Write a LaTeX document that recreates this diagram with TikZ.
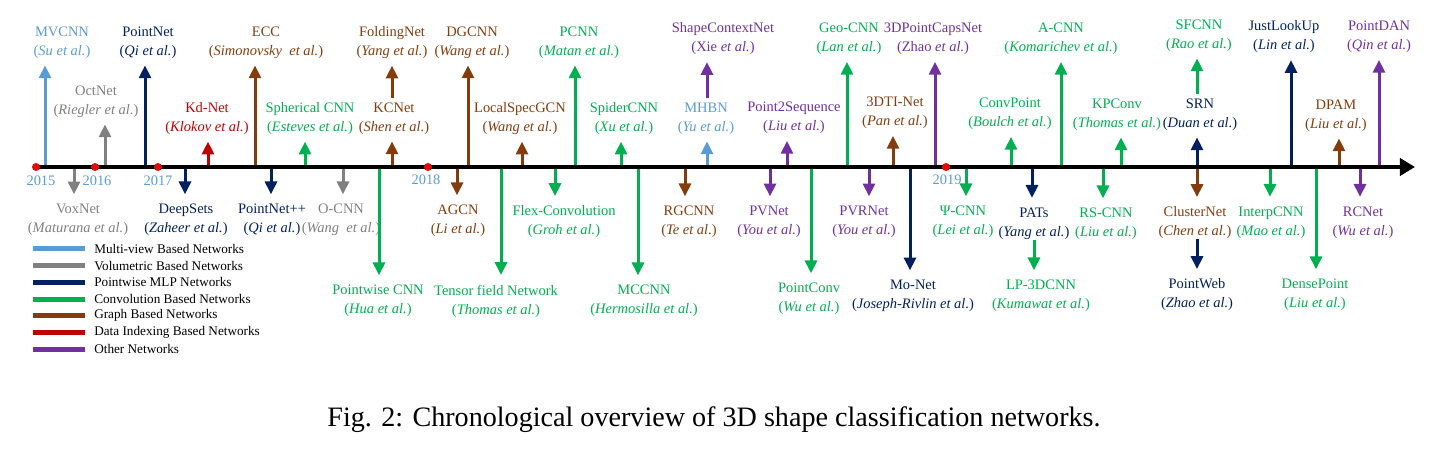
\documentclass[tikz,border=0pt]{standalone}
\usepackage{fontspec}
\setmainfont{Liberation Serif}
\usetikzlibrary{arrows.meta, positioning}

\newcommand{\etalref}[1]{(\textit{#1 et al.})}

\begin{document}
\begin{tikzpicture}[
    x=0.025cm, y=-0.025cm,   % one unit = one pixel of the page
    node distance=0.417cm,   % legend row spacing
    on grid,
    netlabel/.style={
        align=center,
        inner sep=0pt,
        font=\fontsize{10.3}{13.5}\selectfont
    },
    netarrow/.style={
        line width=0.075cm,
        -{Triangle[length=0.32cm, width=0.3cm]}
    },
    netup/.style={netarrow, shorten >=0.17cm},
    netdown/.style={netarrow, shorten >=0.24cm},
    timeline/.style={
        line width=0.1cm,
        -{Triangle[length=0.38cm, width=0.43cm]}
    },
    yeardot/.style={circle, fill=colorYear, inner sep=0pt, minimum size=0.2cm},
    yeartext/.style={font=\fontsize{10.3}{12}\selectfont, text=colorMultiView, inner sep=0pt},
    swatch/.style={inner sep=0pt, minimum width=1.3cm, minimum height=0.125cm},
    legtext/.style={font=\fontsize{9.4}{11}\selectfont, inner sep=0pt}
]

%--- Define colors for network families ---
\definecolor{colorMultiView}{RGB}{91,155,213}     % Light Blue
\definecolor{colorVolumetric}{RGB}{128,128,128}   % Gray
\definecolor{colorPointwise}{RGB}{0,32,96}        % Navy
\definecolor{colorConv}{RGB}{0,176,80}            % Green
\definecolor{colorGraph}{RGB}{132,60,12}          % Brown
\definecolor{colorIndex}{RGB}{192,0,0}            % Dark Red
\definecolor{colorOther}{RGB}{112,48,160}         % Purple
\definecolor{colorYear}{RGB}{230,10,10}           % Red dots

\useasboundingbox (0,0) rectangle (1456,457);

%------------------------------------
% TIMELINE POINTS
%------------------------------------
\coordinate (axis_start) at (36,167);
\coordinate (axis_end) at (1415,167);

% up (long)
\coordinate (mvcnn_t) at (45,167);
\coordinate (point_net_t) at (145,167);
\coordinate (ecc_t) at (255,167);
\coordinate (dgcnn_t) at (468,167);
\coordinate (pcnn_t) at (575,167);
\coordinate (geo_cnn_t) at (847,167);
\coordinate (point_caps_net_t) at (935,167);
\coordinate (a_cnn_t) at (1061,167);
\coordinate (just_look_up_t) at (1291,167);
\coordinate (point_dan_t) at (1379,167);

% up (short)
\coordinate (oct_net_t) at (105,167);
\coordinate (kd_net_t) at (208,167);
\coordinate (spherical_cnn_t) at (305,167);
\coordinate (kcnet_t) at (392,167);
\coordinate (local_spec_gcn_t) at (522,167);
\coordinate (spider_cnn_t) at (621,167);
\coordinate (mhbn_t) at (707,167);
\coordinate (point2sequence_t) at (787,167);
\coordinate (dti_net_t) at (893,167);
\coordinate (conv_point_t) at (1011,167);
\coordinate (kpconv_t) at (1121,167);
\coordinate (srn_t) at (1197,167);
\coordinate (dpam_t) at (1339,167);

% down (short)
\coordinate (vox_net_t) at (74,167);
\coordinate (deep_sets_t) at (185,167);
\coordinate (point_net_pp_t) at (271,167);
\coordinate (o_cnn_t) at (343,167);
\coordinate (agcn_t) at (457,167);
\coordinate (flex_conv_t) at (555,167);
\coordinate (rgcnn_t) at (685,167);
\coordinate (pv_net_t) at (770,167);
\coordinate (pvr_net_t) at (869,167);
\coordinate (psi_cnn_t) at (966,167);
\coordinate (pats_t) at (1032,167);
\coordinate (rs_cnn_t) at (1103,167);
\coordinate (cluster_net_t) at (1197,167);
\coordinate (interp_cnn_t) at (1270,167);
\coordinate (rc_net_t) at (1360,167);

% down (long)
\coordinate (pointwise_cnn_t) at (379,167);
\coordinate (tensor_field_net_t) at (501,167);
\coordinate (mccnn_t) at (638,167);
\coordinate (point_conv_t) at (811,167);
\coordinate (mo_net_t) at (910,167);
\coordinate (dense_point_t) at (1316,167);

%------------------------------------
% ABOVE THE AXIS
%------------------------------------

% far row
\node[netlabel, colorMultiView] (mvcnn) at (62,42.5) {MVCNN\\\etalref{Su}};
\node[netlabel, colorPointwise] (point_net) at (148,42.5) {PointNet\\\etalref{Qi}};
\node[netlabel, colorGraph] (ecc) at (266,42.5) {ECC\\(\textit{Simonovsky~ et al.})};
\node[netlabel, colorGraph] (folding_net) at (392,42.5) {FoldingNet\\\etalref{Yang}};
\node[netlabel, colorGraph] (dgcnn) at (472,42.5) {DGCNN\\\etalref{Wang}};
\node[netlabel, colorConv] (pcnn) at (579,42.5) {PCNN\\\etalref{Matan}};
\node[netlabel, colorOther] (shape_context_net) at (723,39) {ShapeContextNet\\(Xie \textit{et al.})};
\node[netlabel, colorConv] (geo_cnn) at (849,39) {Geo-CNN\\\etalref{Lan}};
\node[netlabel, colorOther] (point_caps_net) at (933,39) {3DPointCapsNet\\(Zhao \textit{et al.})};
\node[netlabel, colorConv] (a_cnn) at (1061,39) {A-CNN\\\etalref{Komarichev}};
\node[netlabel, colorConv] (sfcnn) at (1199,35.5) {SFCNN\\\etalref{Rao}};
\node[netlabel, colorPointwise] (just_look_up) at (1284,37) {JustLookUp\\\etalref{Lin}};
\node[netlabel, colorOther] (point_dan) at (1379,37) {PointDAN\\\etalref{Qin}};

% near row
\node[netlabel, colorVolumetric] (oct_net) at (96,101.5) {OctNet\\\etalref{Riegler}};
\node[netlabel, colorIndex] (kd_net) at (207,118.5) {Kd-Net\\\etalref{Klokov}};
\node[netlabel, colorConv] (spherical_cnn) at (310,118.5) {Spherical CNN\\\etalref{Esteves}};
\node[netlabel, colorGraph] (kcnet) at (394,118.5) {KCNet\\\etalref{Shen}};
\node[netlabel, colorGraph] (local_spec_gcn) at (520,118.5) {LocalSpecGCN\\\etalref{Wang}};
\node[netlabel, colorConv] (spider_cnn) at (624,118.5) {SpiderCNN\\\etalref{Xu}};
\node[netlabel, colorMultiView] (mhbn) at (706,118.5) {MHBN\\\etalref{Yu}};
\node[netlabel, colorOther] (point2sequence) at (794,118) {Point2Sequence\\\etalref{Liu}};
\node[netlabel, colorGraph] (dti_net) at (895,113) {3DTI-Net\\\etalref{Pan}};
\node[netlabel, colorConv] (conv_point) at (1010,114) {ConvPoint\\\etalref{Boulch}};
\node[netlabel, colorConv] (kpconv) at (1117,114.5) {KPConv\\\etalref{Thomas}};
\node[netlabel, colorPointwise] (srn) at (1200,114.5) {SRN\\\etalref{Duan}};
\node[netlabel, colorGraph] (dpam) at (1336,115.5) {DPAM\\\etalref{Liu}};

%------------------------------------
% BELOW THE AXIS
%------------------------------------

% near row
\node[netlabel, colorVolumetric] (vox_net) at (78,220) {VoxNet\\\etalref{Maturana}};
\node[netlabel, colorPointwise] (deep_sets) at (186,220) {DeepSets\\\etalref{Zaheer}};
\node[netlabel, colorPointwise] (point_net_pp) at (272,220) {PointNet++\\\etalref{Qi}};
\node[netlabel, colorVolumetric] (o_cnn) at (341,220) {O-CNN\\(\textit{Wang~ et al.})};
\node[netlabel, colorGraph] (agcn) at (458,221) {AGCN\\\etalref{Li}};
\node[netlabel, colorConv] (flex_conv) at (564,222) {Flex-Convolution\\\etalref{Groh}};
\node[netlabel, colorGraph] (rgcnn) at (689,222) {RGCNN\\\etalref{Te}};
\node[netlabel, colorOther] (pv_net) at (769,222) {PVNet\\\etalref{You}};
\node[netlabel, colorOther] (pvr_net) at (864,222) {PVRNet\\\etalref{You}};
\node[netlabel, colorConv] (psi_cnn) at (963,222) {Ψ-CNN\\\etalref{Lei}};
\node[netlabel, colorPointwise] (pats) at (1034,223.5) {PATs\\\etalref{Yang}};
\node[netlabel, colorConv] (rs_cnn) at (1106,224) {RS-CNN\\\etalref{Liu}};
\node[netlabel, colorGraph] (cluster_net) at (1195,223) {ClusterNet\\\etalref{Chen}};
\node[netlabel, colorConv] (interp_cnn) at (1271,222.5) {InterpCNN\\\etalref{Mao}};
\node[netlabel, colorOther] (rc_net) at (1363,222.5) {RCNet\\\etalref{Wu}};

% far row
\node[netlabel, colorConv] (pointwise_cnn) at (378,301) {Pointwise CNN\\\etalref{Hua}};
\node[netlabel, colorConv] (tensor_field_net) at (496,301) {Tensor field Network\\\etalref{Thomas}};
\node[netlabel, colorConv] (mccnn) at (644,301) {MCCNN\\\etalref{Hermosilla}};
\node[netlabel, colorConv] (point_conv) at (809,299) {PointConv\\\etalref{Wu}};
\node[netlabel, colorPointwise] (mo_net) at (913,296) {Mo-Net\\\etalref{Joseph-Rivlin}};
\node[netlabel, colorConv] (lp_3dcnn) at (1041,296) {LP-3DCNN\\\etalref{Kumawat}};
\node[netlabel, colorPointwise] (point_web) at (1197,295) {PointWeb\\\etalref{Zhao}};
\node[netlabel, colorConv] (dense_point) at (1315,295) {DensePoint\\\etalref{Liu}};

%------------------
% EDGES (ARROWS)
%------------------

% up to far row
\draw[netup, colorMultiView] (mvcnn_t) -- (mvcnn_t |- mvcnn.south);
\draw[netup, colorPointwise] (point_net_t) -- (point_net_t |- point_net.south);
\draw[netup, colorGraph] (ecc_t) -- (ecc_t |- ecc.south);
\draw[netup, colorGraph] (dgcnn_t) -- (dgcnn_t |- dgcnn.south);
\draw[netup, colorConv] (pcnn_t) -- (pcnn_t |- pcnn.south);
\draw[netup, colorConv] (geo_cnn_t) -- (geo_cnn_t |- geo_cnn.south);
\draw[netup, colorOther] (point_caps_net_t) -- (point_caps_net_t |- point_caps_net.south);
\draw[netup, colorConv] (a_cnn_t) -- (a_cnn_t |- a_cnn.south);
\draw[netup, colorPointwise] (just_look_up_t) -- (just_look_up_t |- just_look_up.south);
\draw[netup, colorOther] (point_dan_t) -- (point_dan_t |- point_dan.south);

% up to near row
\draw[netup, colorVolumetric] (oct_net_t) -- (oct_net_t |- oct_net.south);
\draw[netup, colorIndex] (kd_net_t) -- (kd_net_t |- kd_net.south);
\draw[netup, colorConv] (spherical_cnn_t) -- (spherical_cnn_t |- spherical_cnn.south);
\draw[netup, colorGraph] (kcnet_t) -- (kcnet_t |- kcnet.south);
\draw[netup, colorGraph] (local_spec_gcn_t) -- (local_spec_gcn_t |- local_spec_gcn.south);
\draw[netup, colorConv] (spider_cnn_t) -- (spider_cnn_t |- spider_cnn.south);
\draw[netup, colorMultiView] (mhbn_t) -- (mhbn_t |- mhbn.south);
\draw[netup, colorOther] (point2sequence_t) -- (point2sequence_t |- point2sequence.south);
\draw[netup, colorGraph] (dti_net_t) -- (dti_net_t |- dti_net.south);
\draw[netup, colorConv] (conv_point_t) -- (conv_point_t |- conv_point.south);
\draw[netup, colorConv] (kpconv_t) -- (kpconv_t |- kpconv.south);
\draw[netup, colorPointwise] (srn_t) -- (srn_t |- srn.south);
\draw[netup, colorGraph] (dpam_t) -- (dpam_t |- dpam.south);

% stacked above
\draw[netup, shorten <=0.11cm, colorGraph] (kcnet_t |- kcnet.north) -- (kcnet_t |- folding_net.south);
\draw[netup, shorten <=0.11cm, colorOther] (mhbn_t |- mhbn.north) -- (mhbn_t |- shape_context_net.south);
\draw[netup, shorten <=0.11cm, colorConv] (srn_t |- srn.north) -- (srn_t |- sfcnn.south);

% down to near row
\draw[netdown, colorVolumetric] (vox_net_t) -- (vox_net_t |- vox_net.north);
\draw[netdown, colorPointwise] (deep_sets_t) -- (deep_sets_t |- deep_sets.north);
\draw[netdown, colorPointwise] (point_net_pp_t) -- (point_net_pp_t |- point_net_pp.north);
\draw[netdown, colorVolumetric] (o_cnn_t) -- (o_cnn_t |- o_cnn.north);
\draw[netdown, colorGraph] (agcn_t) -- (agcn_t |- agcn.north);
\draw[netdown, colorConv] (flex_conv_t) -- (flex_conv_t |- flex_conv.north);
\draw[netdown, colorGraph] (rgcnn_t) -- (rgcnn_t |- rgcnn.north);
\draw[netdown, colorOther] (pv_net_t) -- (pv_net_t |- pv_net.north);
\draw[netdown, colorOther] (pvr_net_t) -- (pvr_net_t |- pvr_net.north);
\draw[netdown, colorConv] (psi_cnn_t) -- (psi_cnn_t |- psi_cnn.north);
\draw[netdown, colorPointwise] (pats_t) -- (pats_t |- pats.north);
\draw[netdown, colorConv] (rs_cnn_t) -- (rs_cnn_t |- rs_cnn.north);
\draw[netdown, colorGraph] (cluster_net_t) -- (cluster_net_t |- cluster_net.north);
\draw[netdown, colorConv] (interp_cnn_t) -- (interp_cnn_t |- interp_cnn.north);
\draw[netdown, colorOther] (rc_net_t) -- (rc_net_t |- rc_net.north);

% down to far row
\draw[netdown, colorConv] (pointwise_cnn_t) -- (pointwise_cnn_t |- pointwise_cnn.north);
\draw[netdown, colorConv] (tensor_field_net_t) -- (tensor_field_net_t |- tensor_field_net.north);
\draw[netdown, colorConv] (mccnn_t) -- (mccnn_t |- mccnn.north);
\draw[netdown, colorConv] (point_conv_t) -- (point_conv_t |- point_conv.north);
\draw[netdown, colorPointwise] (mo_net_t) -- (mo_net_t |- mo_net.north);
\draw[netdown, colorConv] (dense_point_t) -- (dense_point_t |- dense_point.north);

% stacked below
\draw[netdown, colorConv] (pats.south) -- (pats.south |- lp_3dcnn.north);
\draw[netdown, colorPointwise] (cluster_net_t |- cluster_net.south) -- (cluster_net_t |- point_web.north);

%------------------------------------
% AXIS AND YEARS
%------------------------------------
\draw[timeline] (axis_start) -- (axis_end);

\node[yeardot] (y2015) at (36,167) {};
\node[yeardot] (y2016) at (95,167) {};
\node[yeardot] (y2017) at (158,167) {};
\node[yeardot] (y2018) at (428,167) {};
\node[yeardot] (y2019) at (946,167) {};

\node[yeartext] (t2015) at (41,181) {2015};
\node[yeartext] (t2016) at (97,181) {2016};
\node[yeartext] (t2017) at (158,181) {2017};
\node[yeartext] (t2018) at (426,180) {2018};
\node[yeartext] (t2019) at (947,180) {2019};

%------------------------------------
% LEGEND
%------------------------------------
\node[swatch, fill=colorMultiView] (sw_multiview) at (59,249) {};
\node[swatch, fill=colorVolumetric, below=of sw_multiview] (sw_volumetric) {};
\node[swatch, fill=colorPointwise, below=of sw_volumetric] (sw_pointwise) {};
\node[swatch, fill=colorConv, below=of sw_pointwise] (sw_conv) {};
\node[swatch, fill=colorGraph, below=of sw_conv] (sw_graph) {};
\node[swatch, fill=colorIndex, below=of sw_graph] (sw_index) {};
\node[swatch, fill=colorOther, below=of sw_index] (sw_other) {};

\node[legtext, right=0.875cm of sw_multiview, anchor=west] (lg_multiview) {Multi-view Based Networks};
\node[legtext, right=0.875cm of sw_volumetric, anchor=west] (lg_volumetric) {Volumetric Based Networks};
\node[legtext, right=0.875cm of sw_pointwise, anchor=west] (lg_pointwise) {Pointwise MLP Networks};
\node[legtext, right=0.875cm of sw_conv, anchor=west] (lg_conv) {Convolution Based Networks};
\node[legtext, right=0.875cm of sw_graph, anchor=west] (lg_graph) {Graph Based Networks};
\node[legtext, right=0.875cm of sw_index, anchor=west] (lg_index) {Data Indexing Based Networks};
\node[legtext, right=0.875cm of sw_other, anchor=west] (lg_other) {Other Networks};

%------------------------------------
% CAPTION
%------------------------------------
\node[font=\fontsize{20}{24}\selectfont] (caption) at (714,420)
{Fig. 2: Chronological overview of 3D shape classification networks.};

\end{tikzpicture}
\end{document}
